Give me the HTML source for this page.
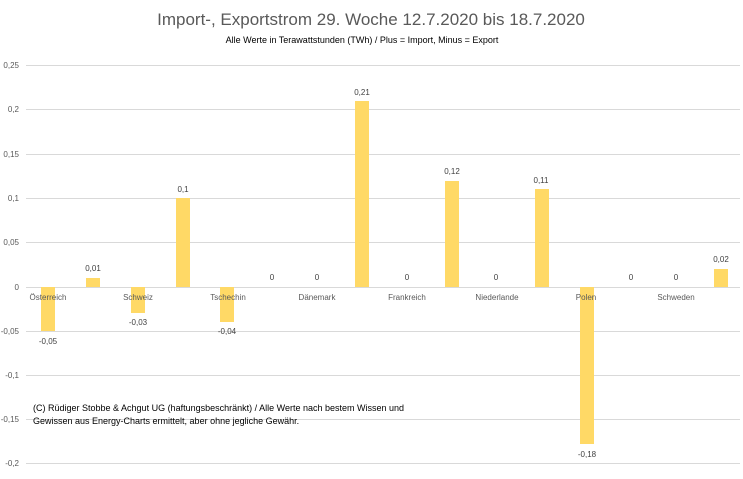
<!DOCTYPE html>
<html><head><meta charset="utf-8"><style>
body{margin:0;background:#fff;font-family:"Liberation Sans",sans-serif}
</style></head><body>
<svg width="743" height="474" xmlns="http://www.w3.org/2000/svg" font-family="Liberation Sans, sans-serif">
<rect width="743" height="474" fill="#fff"/>
<text x="371" y="25" text-anchor="middle" font-size="17" fill="#595959">Import-, Exportstrom 29. Woche 12.7.2020 bis 18.7.2020</text>
<text x="362" y="43" text-anchor="middle" font-size="9" fill="#000">Alle Werte in Terawattstunden (TWh) / Plus = Import, Minus = Export</text>
<g stroke="#d9d9d9" stroke-width="1">
<line x1="26" x2="740" y1="65.5" y2="65.5"/><line x1="26" x2="740" y1="109.5" y2="109.5"/>
<line x1="26" x2="740" y1="154.5" y2="154.5"/><line x1="26" x2="740" y1="198.5" y2="198.5"/>
<line x1="26" x2="740" y1="242.5" y2="242.5"/><line x1="26" x2="740" y1="287.5" y2="287.5"/>
<line x1="26" x2="740" y1="331.5" y2="331.5"/><line x1="26" x2="740" y1="375.5" y2="375.5"/>
<line x1="26" x2="740" y1="419.5" y2="419.5"/><line x1="26" x2="740" y1="463.5" y2="463.5"/>
</g>
<g font-size="8" fill="#595959" text-anchor="end">
<text x="19" y="68">0,25</text><text x="19" y="112">0,2</text><text x="19" y="157">0,15</text>
<text x="19" y="201">0,1</text><text x="19" y="245">0,05</text><text x="19" y="290">0</text>
<text x="19" y="334">-0,05</text><text x="19" y="378">-0,1</text><text x="19" y="422">-0,15</text><text x="19" y="466">-0,2</text>
</g>
<g fill="#FFD966">
<rect x="41" y="287" width="14" height="44"/>
<rect x="86" y="278" width="14" height="9"/>
<rect x="131" y="287" width="14" height="26"/>
<rect x="176" y="198" width="14" height="89"/>
<rect x="220" y="287" width="14" height="35"/>
<rect x="355" y="101" width="14" height="186"/>
<rect x="445" y="181" width="14" height="106"/>
<rect x="535" y="189" width="14" height="98"/>
<rect x="580" y="287" width="14" height="157"/>
<rect x="714" y="269" width="14" height="18"/>
</g>
<g font-size="8" fill="#404040" text-anchor="middle">
<text x="48" y="344">-0,05</text><text x="93" y="271">0,01</text><text x="138" y="325">-0,03</text>
<text x="183" y="192">0,1</text><text x="227" y="334">-0,04</text><text x="272" y="280">0</text>
<text x="317" y="280">0</text><text x="362" y="95">0,21</text><text x="407" y="280">0</text>
<text x="452" y="174">0,12</text><text x="496" y="280">0</text><text x="541" y="183">0,11</text>
<text x="587" y="457">-0,18</text><text x="631" y="280">0</text><text x="676" y="280">0</text><text x="721" y="262">0,02</text>
</g>
<g font-size="8" fill="#595959" text-anchor="middle">
<text x="48" y="300">Österreich</text><text x="138" y="300">Schweiz</text><text x="228" y="300">Tschechin</text>
<text x="317" y="300">Dänemark</text><text x="407" y="300">Frankreich</text><text x="497" y="300">Niederlande</text>
<text x="586" y="300">Polen</text><text x="676" y="300">Schweden</text>
</g>
<g font-size="9" fill="#000">
<text x="33" y="411">(C) Rüdiger Stobbe &amp; Achgut UG (haftungsbeschränkt) / Alle Werte nach bestem Wissen und</text>
<text x="33" y="424">Gewissen aus Energy-Charts ermittelt, aber ohne jegliche Gewähr.</text>
</g>
</svg>
</body></html>
